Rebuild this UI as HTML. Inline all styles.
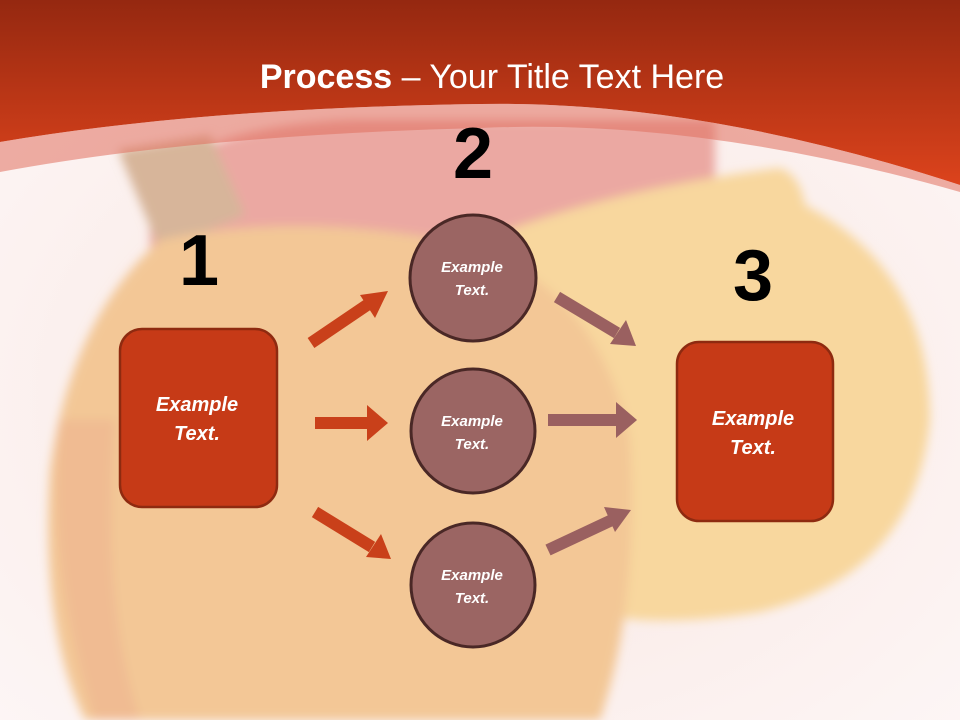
<!DOCTYPE html>
<html><head><style>
html,body{margin:0;padding:0;width:960px;height:720px;overflow:hidden;background:#fdf3f2}
text{font-family:"Liberation Sans",sans-serif}
</style></head><body>
<svg width="960" height="720" viewBox="0 0 960 720" xmlns="http://www.w3.org/2000/svg">
<defs>
<linearGradient id="hd" x1="0" y1="0" x2="0" y2="1">
<stop offset="0" stop-color="#952810"/><stop offset="1" stop-color="#dc431c"/></linearGradient>
<radialGradient id="bg" cx="0.5" cy="0.55" r="0.7">
<stop offset="0" stop-color="#f8e6e0"/><stop offset="1" stop-color="#fdf6f6"/></radialGradient>
<filter id="bl" x="-10%" y="-10%" width="120%" height="120%"><feGaussianBlur stdDeviation="5"/></filter>
</defs>
<rect width="960" height="720" fill="url(#bg)"/>
<g filter="url(#bl)">
<path d="M150 230 Q140 130 350 120 L715 120 L715 330 L150 330 Z" fill="#eba8a2"/>
<path d="M118 150 L210 135 L245 215 L160 250 Z" fill="#d7b59a"/>
<path d="M470 245 Q600 190 780 168 Q800 175 805 205 Q930 270 930 420 Q915 575 760 612 Q650 630 580 610 Q480 520 470 245Z" fill="#f8d79e"/>
<path d="M160 240 Q70 320 50 470 Q40 630 85 720 L600 720 Q640 600 630 440 Q600 290 470 245 Q300 210 160 240 Z" fill="#f3c796"/>
<path d="M60 420 Q45 560 95 720 L140 720 Q100 600 115 420Z" fill="#eeb390" opacity="0.6"/>
</g>
<path d="M0 0 H960 V185 Q700 100 480 104 Q200 108 0 142 Z" fill="url(#hd)"/>
<path d="M0 142 Q200 108 480 104 Q700 100 960 185 V192 Q700 118 480 128 Q200 135 0 172 Z" fill="#e0705e" opacity="0.55"/>
<text x="492" y="88" text-anchor="middle" font-size="34" fill="#fff"><tspan font-weight="bold">Process</tspan> – Your Title Text Here</text>
<g font-weight="bold" font-size="72" fill="#000" text-anchor="middle">
<text x="199" y="285">1</text><text x="473" y="178">2</text><text x="753" y="300">3</text></g>
<g stroke="#c9401a" stroke-width="12" fill="#c9401a">
<line x1="311" y1="343" x2="370" y2="303"/><polygon points="388,291 360,295 375,318" stroke="none"/>
<line x1="315" y1="423" x2="368" y2="423"/><polygon points="388,423 367,405 367,441" stroke="none"/>
<line x1="315" y1="512" x2="372" y2="547"/><polygon points="391,559 381,534 366,557" stroke="none"/>
</g>
<g stroke="#9a6060" stroke-width="12" fill="#9a6060">
<line x1="557" y1="297" x2="617" y2="333"/><polygon points="636,346 626,320 610,344" stroke="none"/>
<line x1="548" y1="420" x2="617" y2="420"/><polygon points="637,420 616,402 616,438" stroke="none"/>
<line x1="548" y1="550" x2="612" y2="520"/><polygon points="631,510 604,507 615,532" stroke="none"/>
</g>
<rect x="120" y="329" width="157" height="178" rx="22" fill="#c63a17" stroke="#8e2a10" stroke-width="2.5"/>
<rect x="677" y="342" width="156" height="179" rx="22" fill="#c63a17" stroke="#8e2a10" stroke-width="2.5"/>
<g fill="#9b6563" stroke="#4a2826" stroke-width="3">
<circle cx="473" cy="278" r="63"/><circle cx="473" cy="431" r="62"/><circle cx="473" cy="585" r="62"/></g>
<g fill="#fff" font-weight="bold" font-style="italic" text-anchor="middle">
<text x="197" y="411" font-size="20">Example</text><text x="197" y="440" font-size="20">Text.</text>
<text x="753" y="425" font-size="20">Example</text><text x="753" y="454" font-size="20">Text.</text>
<text x="472" y="272" font-size="15">Example</text><text x="472" y="295" font-size="15">Text.</text>
<text x="472" y="426" font-size="15">Example</text><text x="472" y="449" font-size="15">Text.</text>
<text x="472" y="580" font-size="15">Example</text><text x="472" y="603" font-size="15">Text.</text>
</g>
</svg>
</body></html>
